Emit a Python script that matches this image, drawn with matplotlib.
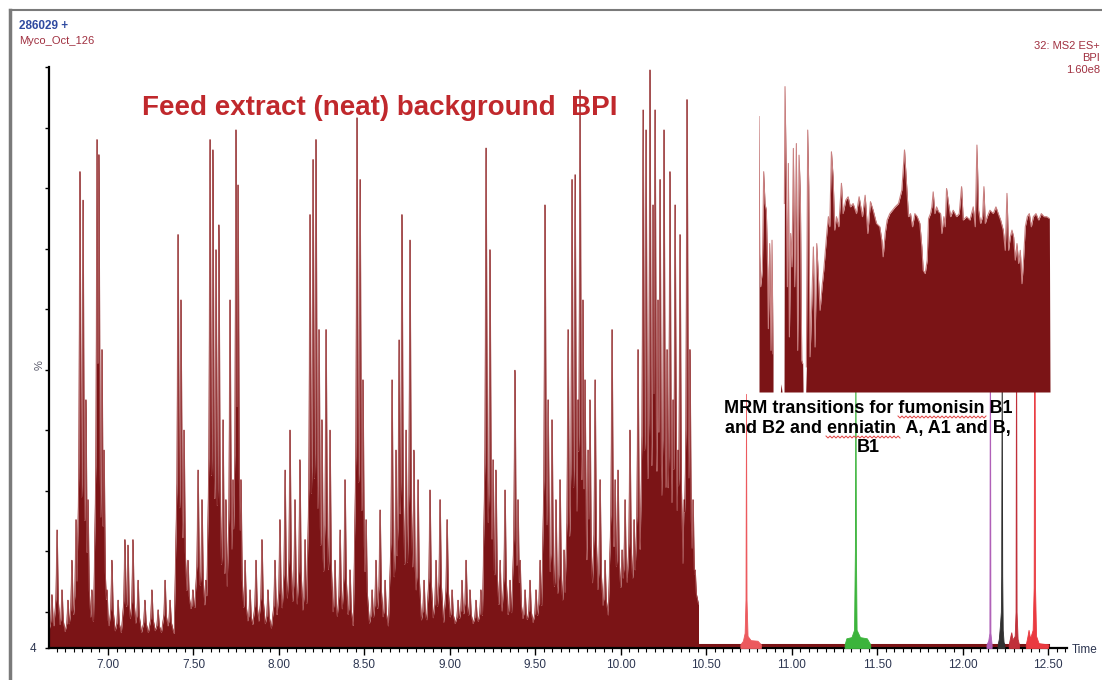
import matplotlib
matplotlib.use("Agg")
import matplotlib.pyplot as plt
from matplotlib.lines import Line2D
from matplotlib.ticker import MultipleLocator
import numpy as np

plt.rcParams["font.family"] = ["Liberation Sans", "DejaVu Sans"]

W, H = 1102, 680
DARK_RED = "#7b1416"
RIM = "#c98080"

# ── main BPI trace: peak apexes (min, %) ──
peak_t = [6.672, 6.702, 6.731, 6.766, 6.789, 6.813, 6.836, 6.854, 6.871, 6.883,
          6.906, 6.936, 6.947, 6.965, 6.977, 6.994, 7.023, 7.059, 7.099, 7.117,
          7.146, 7.176, 7.216, 7.257, 7.293, 7.334, 7.363, 7.410, 7.427, 7.445,
          7.468, 7.497, 7.527, 7.550, 7.573, 7.597, 7.614, 7.632, 7.649, 7.673,
          7.690, 7.714, 7.731, 7.749, 7.761, 7.778, 7.802, 7.831, 7.866, 7.901,
          7.936, 7.977, 8.006, 8.036, 8.065, 8.094, 8.123, 8.153, 8.182, 8.200,
          8.217, 8.235, 8.252, 8.276, 8.299, 8.328, 8.358, 8.387, 8.416, 8.457,
          8.475, 8.492, 8.510, 8.545, 8.568, 8.592, 8.621, 8.662, 8.685, 8.703,
          8.720, 8.744, 8.767, 8.790, 8.814, 8.849, 8.884, 8.919, 8.943, 8.984,
          9.013, 9.048, 9.071, 9.095, 9.118, 9.153, 9.182, 9.212, 9.235, 9.253,
          9.270, 9.294, 9.323, 9.352, 9.381, 9.399, 9.411, 9.440, 9.469, 9.504,
          9.528, 9.557, 9.575, 9.598, 9.621, 9.645, 9.668, 9.692, 9.715, 9.733,
          9.750, 9.762, 9.779, 9.791, 9.809, 9.820, 9.850, 9.879, 9.908, 9.949,
          9.967, 9.984, 10.008, 10.025, 10.054, 10.078, 10.101, 10.131, 10.148, 10.171,
          10.189, 10.201, 10.218, 10.230, 10.253, 10.271, 10.288, 10.306, 10.318, 10.335,
          10.347, 10.371, 10.388, 10.405, 10.423, 10.435]
peak_pct = [12.8, 23.5, 13.6, 11.9, 18.5, 25.2, 82.7, 78.0, 45.0, 28.5,
            13.6, 88.0, 85.5, 53.3, 36.7, 13.6, 18.5, 11.9, 21.9, 21.0,
            21.9, 15.2, 11.9, 13.6, 10.3, 15.2, 11.9, 72.3, 61.5, 40.0,
            18.5, 13.6, 33.4, 28.5, 15.2, 88.0, 86.3, 69.8, 73.9, 41.7,
            28.5, 61.5, 31.8, 89.6, 80.5, 31.8, 18.5, 13.6, 18.5, 21.9,
            13.6, 18.5, 25.2, 33.4, 40.0, 28.5, 35.1, 21.9, 75.6, 84.7,
            88.0, 56.6, 41.7, 56.6, 40.0, 18.5, 23.5, 31.8, 16.9, 91.6,
            81.4, 48.3, 25.2, 13.6, 18.5, 26.8, 15.2, 48.3, 36.7, 54.9,
            75.6, 40.0, 71.4, 36.7, 31.8, 15.2, 30.1, 18.5, 28.5, 25.2,
            13.6, 11.9, 15.2, 18.5, 13.6, 11.9, 13.6, 86.6, 69.8, 35.1,
            33.4, 18.5, 30.1, 15.2, 49.9, 28.5, 18.5, 13.6, 15.2, 13.6,
            18.5, 77.2, 45.0, 41.7, 28.5, 31.8, 20.2, 56.6, 81.4, 82.2,
            45.0, 96.2, 61.5, 48.3, 36.7, 45.0, 48.3, 31.8, 18.5, 56.6,
            31.8, 33.4, 20.2, 28.5, 40.0, 25.2, 53.3, 92.9, 89.6, 99.5,
            77.2, 92.9, 61.5, 81.4, 89.6, 53.3, 82.7, 45.0, 77.2, 36.7,
            72.3, 28.5, 94.6, 53.3, 28.5, 16.9]

# baseline level under the peaks
base_t = [6.655, 7.00, 7.40, 7.42, 7.52, 7.60, 8.00, 8.50, 9.00, 9.50, 9.90, 10.00, 10.445, 10.455, 12.50]
base_pct = [6.0, 6.0, 6.5, 9.5, 9.5, 7.0, 7.0, 7.0, 7.5, 7.5, 8.5, 11.0, 11.0, 4.5, 4.5]

# ── MRM transitions (min, %) ──
mrm = {
    "#ec5a5e": ([10.70, 10.715, 10.725, 10.730, 10.733, 10.736, 10.742, 10.76, 10.80, 10.82],
                [4.6, 5.2, 6.5, 12.0, 46.0, 12.0, 6.0, 5.3, 5.2, 4.6]),
    "#3cb43c": ([11.31, 11.32, 11.35, 11.365, 11.370, 11.373, 11.376, 11.38, 11.40, 11.44, 11.46],
                [4.6, 5.6, 5.8, 7.0, 20.0, 55.0, 20.0, 7.0, 5.8, 5.6, 4.6]),
    "#b060b8": ([12.14, 12.15, 12.157, 12.160, 12.163, 12.17],
                [4.6, 5.2, 6.5, 70.0, 6.5, 4.6]),
    "#303030": ([12.205, 12.212, 12.218, 12.224, 12.226, 12.229, 12.232, 12.235, 12.24, 12.245],
                [4.6, 5.5, 7.5, 10.0, 16.0, 55.0, 16.0, 7.0, 5.0, 4.6]),
    "#c0303a": ([12.27, 12.28, 12.285, 12.292, 12.305, 12.310, 12.313, 12.316, 12.322, 12.33],
                [4.6, 6.0, 6.6, 5.4, 6.0, 10.0, 65.0, 10.0, 5.5, 4.6]),
    "#ea3a40": ([12.37, 12.38, 12.386, 12.395, 12.41, 12.416, 12.420, 12.424, 12.43, 12.445, 12.50],
                [4.6, 6.0, 7.0, 5.6, 7.0, 14.0, 80.0, 14.0, 6.0, 4.8, 4.6]),
}

# ── pasted BPI continuation (inset), x as % of its width, y in % ──
inset_segments = [
    ([0.0, 0.0, 0.23, 0.57, 1.15, 1.61, 2.06, 2.52, 2.98, 3.21, 3.67, 4.13, 4.47, 4.82, 4.82],
     [0.0, 90.0, 45.3, 34.4, 39.8, 72.0, 61.6, 59.4, 39.8, 20.7, 48.5, 13.6, 49.6, 12.5, 0.0]),
    ([7.34, 7.57, 7.91], [0.0, 2.7, 0.0]),
    ([8.60, 8.72, 8.94, 9.29, 9.75, 10.09, 10.44, 10.89, 11.35, 11.81, 12.27, 12.84,
      13.30, 13.76, 14.22, 14.68, 15.02, 15.14],
     [0.0, 61.6, 99.8, 74.7, 34.4, 74.7, 18.0, 51.8, 40.9, 79.6, 34.4, 81.2,
      13.6, 77.4, 63.8, 10.4, 9.3, 0.0]),
    ([16.06, 16.28, 16.74, 17.09, 17.55, 18.12, 18.69, 19.27, 19.84, 20.41, 20.99, 21.67,
      22.25, 22.82, 23.39, 23.85, 24.31, 24.89, 25.46, 26.03, 26.61, 27.41, 28.33, 28.90,
      29.82, 30.62, 31.42, 32.34, 33.49, 34.40, 35.55, 36.47, 37.39, 38.30, 39.22, 40.37,
      41.51, 42.20, 42.66, 43.35, 44.04, 44.95, 45.87, 46.79, 47.94, 49.08, 50.00, 50.69,
      51.38, 52.06, 52.75, 53.56, 54.36, 55.28, 55.96, 56.42, 57.11, 57.80, 58.26, 58.94,
      59.40, 59.86, 60.44, 61.01, 61.70, 62.39, 62.84, 63.53, 63.99, 64.45, 65.14, 65.83,
      66.74, 67.89, 68.81, 69.61, 70.18, 71.33, 72.48, 73.62, 74.31, 74.89, 75.46, 76.15,
      76.83, 77.29, 77.75, 78.44, 79.36, 80.50, 81.42, 82.22, 83.03, 83.94, 84.63, 85.21,
      85.78, 86.35, 86.93, 87.50, 88.07, 88.65, 89.22, 89.79, 90.37, 90.83, 91.51, 92.20,
      92.89, 93.58, 94.27, 95.18, 96.10, 97.02, 97.94, 98.85, 99.77, 100.0],
     [0.0, 8.2, 85.6, 67.1, 11.5, 28.9, 47.4, 14.7, 48.5, 37.6, 26.7, 34.4,
      39.8, 46.3, 52.9, 57.3, 54.0, 78.5, 70.3, 52.9, 57.3, 54.0, 68.2, 58.3,
      62.7, 63.8, 60.5, 61.6, 58.3, 63.8, 57.3, 64.3, 51.8, 62.2, 59.4, 55.1,
      54.0, 49.6, 44.2, 51.8, 56.2, 58.3, 59.4, 60.5, 61.6, 66.0, 79.1, 68.2,
      57.3, 58.3, 54.0, 58.3, 57.3, 55.1, 47.4, 39.8, 38.7, 43.1, 56.7, 58.3,
      60.5, 65.4, 58.3, 60.5, 58.9, 58.3, 51.8, 57.3, 54.0, 66.5, 61.6, 57.3,
      59.4, 57.3, 58.3, 67.1, 56.2, 57.3, 56.2, 60.5, 54.0, 80.7, 59.4, 55.1,
      57.3, 67.1, 55.1, 57.3, 59.4, 58.3, 60.5, 58.3, 56.2, 52.9, 46.3, 64.9,
      46.3, 50.7, 52.9, 50.7, 43.1, 48.5, 42.0, 46.3, 35.4, 42.0, 54.0, 57.3,
      58.3, 54.0, 57.3, 58.3, 56.2, 58.3, 57.3, 57.3, 56.7, 0.0]),
]

XMIN, XMAX, YMIN, YMAX = 6.655, 12.611, 4.0, 100.0


def fpx(x, y):
    """pixel position -> figure fraction"""
    return x / W, 1 - y / H


fig = plt.figure(figsize=(W / 100, H / 100), dpi=100)
ax = fig.add_axes([49 / W, (H - 648) / H, (1067 - 49) / W, (648 - 67) / H])

# build the BPI envelope from the peak apexes
grid = np.linspace(XMIN, 10.455, 6000)
trace = np.interp(grid, base_t, base_pct)
for t, h in zip(peak_t, peak_pct):
    b = np.interp(t, base_t, base_pct)
    st = [t - 0.022, t - 0.007, t - 0.0015, t + 0.0015, t + 0.007, t + 0.022]
    sy = [b, b + 0.35 * (h - b), h, h, b + 0.35 * (h - b), b]
    trace = np.maximum(trace, np.interp(grid, st, sy, left=0, right=0))
ax.fill_between(grid, YMIN, trace, color=DARK_RED, lw=0)
ax.plot(grid, trace, color=RIM, lw=0.6, zorder=2)
ax.plot(grid, trace, color=DARK_RED, lw=0.3, zorder=2)
ax.plot([10.44, 12.50], [4.45, 4.45], color=DARK_RED, lw=2.2, zorder=3)

for col, (mt, mp) in mrm.items():
    ax.fill_between(mt, YMIN, mp, color=col, lw=0.6, edgecolor=col, zorder=4)

ax.set_xlim(XMIN, XMAX)
ax.set_ylim(YMIN, YMAX)
for s in ("top", "right"):
    ax.spines[s].set_visible(False)
for s in ("left", "bottom"):
    ax.spines[s].set_linewidth(1.6)
    ax.spines[s].set_color("black")
ax.set_facecolor("none")

ax.set_xticks(np.arange(7.0, 12.51, 0.5))
ax.set_xticklabels([f"{v:.2f}" for v in np.arange(7.0, 12.51, 0.5)])
ax.xaxis.set_minor_locator(MultipleLocator(0.05))
ax.tick_params(axis="x", which="major", length=5, width=1, color="black",
               labelsize=8.5, labelcolor="#2c3550", pad=3)
ax.tick_params(axis="x", which="minor", length=3, width=0.8, color="black")
ax.set_yticks([4] + list(range(10, 101, 10)))
ax.set_yticklabels(["4"] + [""] * 10)
ax.tick_params(axis="y", length=3, width=1, color="black", labelsize=8.5,
               labelcolor="#2c3550", pad=6)

# inset block
ins = fig.add_axes([759 / W, (H - 392) / H, 291 / W, 306 / H])
ins.set_facecolor("white")
for ix, iy in inset_segments:
    ins.fill_between(ix, 0, iy, color=DARK_RED, lw=0)
    ins.plot(ix[1:-1], iy[1:-1], color=RIM, lw=0.8)
ins.set_xlim(0, 100)
ins.set_ylim(0, 100)
for s in ins.spines.values():
    s.set_visible(False)
ins.set_xticks([])
ins.set_yticks([])

# frame of the original screenshot
fig.add_artist(Line2D([10 / W, 10 / W], [0, 1 - 10 / H], color="#7a7a7a", lw=2.5))
fig.add_artist(Line2D([10 / W, 1], [1 - 10 / H, 1 - 10 / H], color="#7a7a7a", lw=1.5))

# header texts
fig.text(*fpx(19, 26), "286029 +", color="#2f4aa0", fontsize=8.5, fontweight="bold", va="center")
fig.text(*fpx(19, 41), "Myco_Oct_126", color="#a03040", fontsize=8, va="center")
fig.text(*fpx(1100, 46), "32: MS2 ES+", color="#a03040", fontsize=8, ha="right", va="center")
fig.text(*fpx(1100, 58), "BPI", color="#a03040", fontsize=8, ha="right", va="center")
fig.text(*fpx(1100, 70), "1.60e8", color="#a03040", fontsize=8, ha="right", va="center")
fig.text(*fpx(40, 365), "%", color="#555566", fontsize=8, rotation=90, ha="center", va="center")
fig.text(*fpx(1072, 650), "Time", color="#2c3550", fontsize=8.5, va="center")

fig.text(*fpx(380, 108), "Feed extract (neat) background  BPI", color="#c0282c",
         fontsize=20, fontweight="bold", ha="center", va="center")
fig.text(*fpx(868, 428), "MRM transitions for fumonisin B1\nand B2 and enniatin  A, A1 and B,\nB1",
         color="black", fontsize=13, fontweight="bold", ha="center", va="center",
         linespacing=1.18)

# spell-check squiggles under two words
for x0, x1, y0 in [(898, 988, 417), (826, 902, 437)]:
    xs = np.arange(x0, x1, 2)
    ys = y0 + np.where(np.arange(len(xs)) % 2 == 0, -1, 1)
    fig.add_artist(Line2D(xs / W, 1 - ys / H, color="#e04040", lw=0.7))

fig.savefig("out.png", dpi=100)
